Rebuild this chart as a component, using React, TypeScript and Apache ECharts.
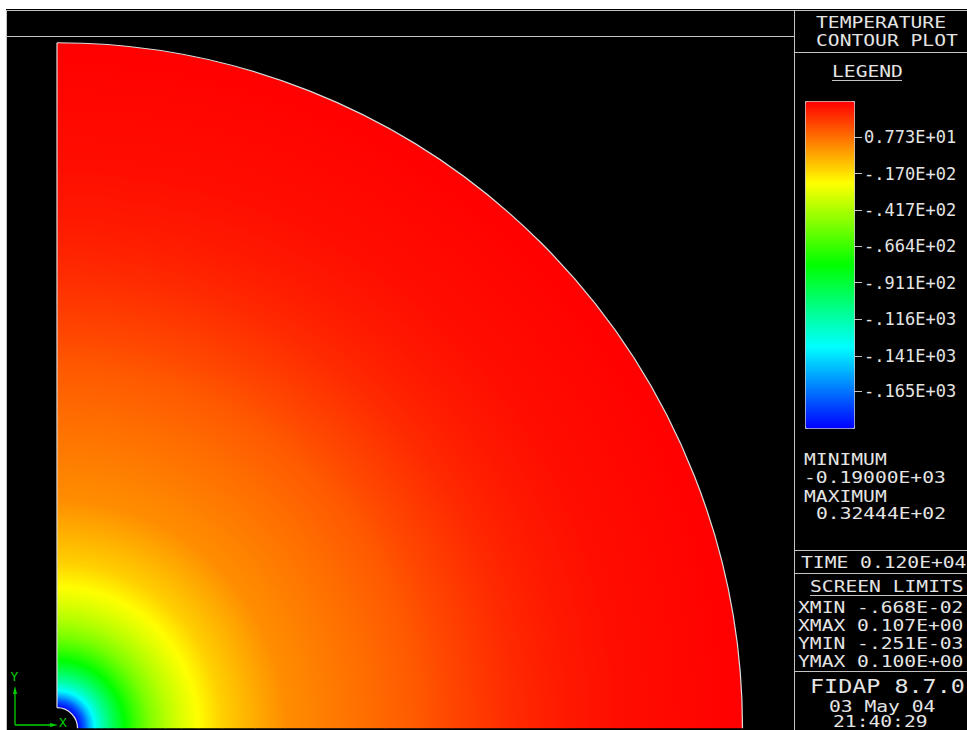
import React, { useEffect, useRef } from "react";
import * as echarts from "echarts";

// ---- data ----
// radial profile of temperature (radius in m, temperature)
const radii = [0.003, 0.0036, 0.0041, 0.0047, 0.0055, 0.0064, 0.0073, 0.0085, 0.0099, 0.0117, 0.0134, 0.0158, 0.0181, 0.0206, 0.0241, 0.0289, 0.0333, 0.0381, 0.043, 0.0478, 0.0526, 0.0576, 0.0624, 0.0668, 0.0741, 0.0824, 0.0911, 0.1];
const temps = [-190, -178, -168, -152, -134, -120, -108, -94, -79, -64, -52, -40, -31, -23, -13, -5, 1.8, 4.6, 7.4, 10.2, 13.0, 17.1, 20.5, 23.5, 27.0, 29.5, 31.0, 32.4];

const tMin = -190;
const tMax = 32.444;
const xLimits = [-0.00668, 0.107];
const yLimits = [-0.000251, 0.1];

const legendTickValues = [7.73, -17.0, -41.7, -66.4, -91.1, -116, -141, -165];
const legendTickLabels = ["0.773E+01", "-.170E+02", "-.417E+02", "-.664E+02", "-.911E+02", "-.116E+03", "-.141E+03", "-.165E+03"];

const titleLines = ["TEMPERATURE", "CONTOUR PLOT"];
const legendTitle = "LEGEND";
const extremaLines = ["MINIMUM", "-0.19000E+03", "MAXIMUM", "0.32444E+02"];
const timeLabel = "TIME 0.120E+04";
const limitsTitle = "SCREEN LIMITS";
const limitsLines = ["XMIN -.668E-02", "XMAX 0.107E+00", "YMIN -.251E-03", "YMAX 0.100E+00"];
const footerLines = ["FIDAP 8.7.0", "03 May 04", "21:40:29"];

const palette = ["#0000ff", "#00ffff", "#00ff00", "#ffff00", "#ff0000"];

const FONT = '"DejaVu Sans Mono", monospace';
const TXT = "#e4e4e4";
const LINE = "#c4c4c4";
const GREEN = "#00d000";

function colorOf(t: number): string {
  const n = Math.max(0, Math.min(1, (t - tMin) / (tMax - tMin)));
  return echarts.color.lerp(n, palette) as string;
}

function txt(text: string, x: number, y: number, size = 16.5, sx = 1.19) {
  return {
    type: "text",
    x,
    y,
    scaleX: sx,
    z: 10,
    style: {
      text,
      fill: TXT,
      font: `${size}px ${FONT}`,
      align: "left",
      verticalAlign: "middle",
      textAlign: "left",
      textVerticalAlign: "middle",
    },
  };
}

function hline(x1: number, x2: number, y: number) {
  return { type: "line", z: 10, shape: { x1, y1: y, x2, y2: y }, style: { stroke: LINE, lineWidth: 1 } };
}
function vline(x: number, y1: number, y2: number) {
  return { type: "line", z: 10, shape: { x1: x, y1, x2: x, y2 }, style: { stroke: LINE, lineWidth: 1 } };
}

export default function App() {
  const ref = useRef<HTMLDivElement>(null);

  useEffect(() => {
    if (!ref.current) return;
    const chart = echarts.init(ref.current, null, { renderer: "svg" });

    const bands = [];
    for (let i = 0; i < radii.length - 1; i++) {
      bands.push([radii[i], radii[i + 1], temps[i], temps[i + 1]]);
    }

    const graphics: any[] = [
      // white page margins
      { type: "rect", z: -5, shape: { x: 0, y: 0, width: 967, height: 9 }, style: { fill: "#ffffff" } },
      { type: "rect", z: -5, shape: { x: 0, y: 0, width: 6, height: 730 }, style: { fill: "#ffffff" } },
      hline(6, 967, 10.5),
      vline(6.5, 10, 730),
      hline(6, 794, 36.5),
      vline(794.5, 10, 730),
      hline(794, 967, 52.5),
      hline(794, 967, 550.5),
      hline(794, 967, 573.5),
      hline(794, 967, 671.5),
      hline(832, 902, 80.5),
      hline(810, 967, 595.5),
      txt(titleLines[0], 816, 22),
      txt(titleLines[1], 816, 40.5),
      txt(legendTitle, 832, 71.5),
      txt(extremaLines[0], 804, 459.5),
      txt(extremaLines[1], 804, 477),
      txt(extremaLines[2], 804, 496),
      txt(extremaLines[3], 816, 513.5),
      txt(timeLabel, 801, 562),
      txt(limitsTitle, 810, 586.5),
      txt(limitsLines[0], 798, 607),
      txt(limitsLines[1], 798, 625),
      txt(limitsLines[2], 798, 643),
      txt(limitsLines[3], 798, 661),
      txt(footerLines[0], 810, 686, 20, 1.17),
      txt(footerLines[1], 829, 706),
      txt(footerLines[2], 833, 721.5),
      // axis triad
      { type: "line", z: 12, shape: { x1: 15, y1: 725, x2: 15, y2: 692 }, style: { stroke: GREEN, lineWidth: 1.3 } },
      { type: "polygon", z: 12, shape: { points: [[13, 694], [17, 694], [15, 686]] }, style: { fill: GREEN } },
      { type: "line", z: 12, shape: { x1: 15, y1: 725, x2: 52, y2: 725 }, style: { stroke: GREEN, lineWidth: 1.3 } },
      { type: "polygon", z: 12, shape: { points: [[50, 723], [50, 727], [58, 725]] }, style: { fill: GREEN } },
      { type: "text", z: 12, x: 14.5, y: 676, style: { text: "Y", fill: GREEN, font: `13px ${FONT}`, align: "center", verticalAlign: "middle", textAlign: "center", textVerticalAlign: "middle" } },
      { type: "text", z: 12, x: 63, y: 722, style: { text: "X", fill: GREEN, font: `13px ${FONT}`, align: "center", verticalAlign: "middle", textAlign: "center", textVerticalAlign: "middle" } },
    ];

    chart.setOption({
      animation: false,
      backgroundColor: "#000000",
      grid: [
        { left: 11.2, top: 43.5, width: 779.3, height: 687.2 },
        { left: 805, top: 101, width: 49, height: 327 },
      ],
      xAxis: [
        { type: "value", gridIndex: 0, min: xLimits[0], max: xLimits[1], show: false },
        { type: "value", gridIndex: 1, min: 0, max: 1, show: false },
      ],
      yAxis: [
        { type: "value", gridIndex: 0, min: yLimits[0], max: yLimits[1], show: false },
        {
          type: "value",
          gridIndex: 1,
          min: tMin,
          max: tMax,
          position: "right",
          z: 6,
          axisLine: { show: false, onZero: false },
          splitLine: { show: false },
          axisTick: { show: true, length: 8, inside: false, customValues: legendTickValues, lineStyle: { color: LINE, width: 1 } },
          axisLabel: {
            show: true,
            customValues: legendTickValues,
            margin: 10,
            color: TXT,
            fontFamily: FONT,
            fontSize: 17,
            formatter: (v: number) => {
              let best = 0;
              for (let i = 0; i < legendTickValues.length; i++) {
                if (Math.abs(legendTickValues[i] - v) < Math.abs(legendTickValues[best] - v)) best = i;
              }
              return legendTickLabels[best];
            },
          },
        },
      ],
      visualMap: {
        type: "continuous",
        show: true,
        seriesIndex: 0,
        dimension: 2,
        min: tMin,
        max: tMax,
        left: 805,
        top: 101,
        itemWidth: 49,
        itemHeight: 327,
        padding: 0,
        calculable: false,
        hoverLink: false,
        text: null,
        borderColor: LINE,
        borderWidth: 1,
        inRange: { color: palette },
      },
      graphic: graphics,
      series: [
        {
          type: "custom",
          xAxisIndex: 0,
          yAxisIndex: 0,
          z: 2,
          silent: true,
          data: bands,
          renderItem: (params: any, api: any) => {
            const r0 = api.value(0);
            const r1 = api.value(1);
            const t0 = api.value(2);
            const t1 = api.value(3);
            const c = api.coord([0, 0]);
            const R0 = api.size([r0, 0])[0];
            const R1 = api.size([r1, 0])[0];
            const last = params.dataIndex === bands.length - 1;
            const fill = new echarts.graphic.RadialGradient(
              c[0],
              c[1],
              R1,
              [
                { offset: 0, color: colorOf(t0) },
                { offset: R0 / R1, color: colorOf(t0) },
                { offset: 1, color: colorOf(t1) },
              ],
              true
            );
            return {
              type: "sector",
              shape: { cx: c[0], cy: c[1], r0: R0, r: last ? R1 : R1 + 0.8, startAngle: -Math.PI / 2, endAngle: 0, clockwise: true },
              style: { fill },
            };
          },
        },
        {
          type: "custom",
          xAxisIndex: 0,
          yAxisIndex: 0,
          z: 3,
          silent: true,
          data: [[radii[0], radii[radii.length - 1]]],
          renderItem: (params: any, api: any) => {
            const c = api.coord([0, 0]);
            const R0 = api.size([api.value(0), 0])[0];
            const R1 = api.size([api.value(1), 0])[0];
            const st = { stroke: "#dcdcdc", lineWidth: 1.2, fill: "none" };
            return {
              type: "group",
              children: [
                { type: "arc", shape: { cx: c[0], cy: c[1], r: R1, startAngle: -Math.PI / 2, endAngle: 0, clockwise: true }, style: st },
                { type: "arc", shape: { cx: c[0], cy: c[1], r: R0, startAngle: -Math.PI / 2, endAngle: 0, clockwise: true }, style: st },
                { type: "line", shape: { x1: c[0], y1: c[1] - R0, x2: c[0], y2: c[1] - R1 }, style: st },
              ],
            };
          },
        },
      ],
    });

    return () => chart.dispose();
  }, []);

  return (
    <div
      ref={ref}
      style={{ position: "absolute", left: 0, top: 0, width: 967, height: 730 }}
    />
  );
}
